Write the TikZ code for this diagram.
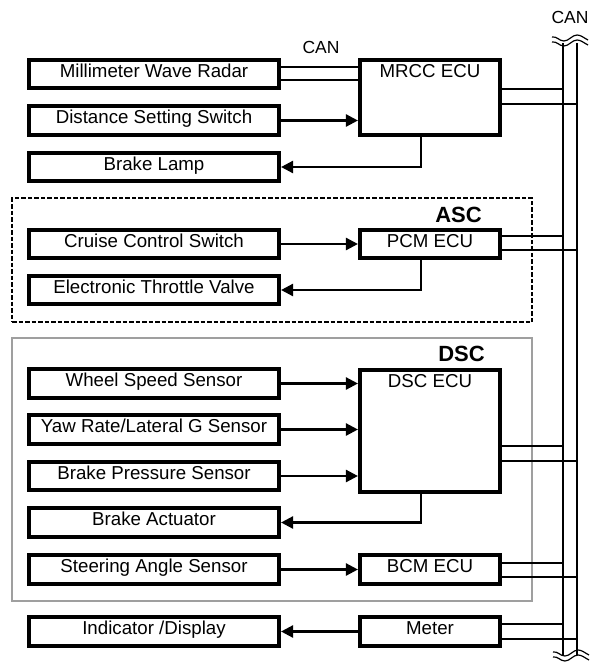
\documentclass[tikz,border=0pt]{standalone}
\usepackage{fontspec}
\setmainfont{Liberation Sans}
\usetikzlibrary{arrows.meta}
\begin{document}
\begin{tikzpicture}[x=1pt,y=-1pt,
  box/.style={draw, line width=3.6pt, minimum width=250.5pt, minimum height=28.5pt, inner sep=0pt},
  ecu/.style={box, minimum width=140.5pt},
  lab/.style={anchor=base, yshift=-19.5pt, inner sep=0pt, font=\fontsize{18.7}{20}\selectfont},
  txt/.style={anchor=base, inner sep=0pt, font=\fontsize{17.5}{20}\selectfont},
  grp/.style={anchor=base, inner sep=0pt, font=\bfseries\fontsize{22}{24}\selectfont},
  arr/.style={line width=2.4pt, -{Triangle[length=12pt,width=12pt]}},
  fb/.style={line width=2.4pt, -{Triangle[length=12pt,width=12pt]}},
  thin/.style={line width=1.2pt},
]
\useasboundingbox (0,0) rectangle (596,662);

% group frames
\node[draw, line width=1.8pt, dash pattern=on 4.5pt off 2pt, minimum width=520pt, minimum height=124pt, inner sep=0pt] (ascframe) at (272,260) {};
\node[draw, gray!75, line width=1.8pt, minimum width=520pt, minimum height=263pt, inner sep=0pt] (dscframe) at (272,469.5) {};
\node[grp] (asclab) at (458.5,222) {ASC};
\node[grp] (dsclab) at (461.5,361) {DSC};

% labels
\node[txt] (can1) at (321,53) {CAN};
\node[txt] (can2) at (570,23) {CAN};

% left boxes
\node[box, label={[lab]north:Millimeter Wave Radar}] (radar) at (154,74) {};
\node[box, label={[lab]north:Distance Setting Switch}] (dist) at (154,120.5) {};
\node[box, label={[lab]north:Brake Lamp}] (lamp) at (154,167) {};
\node[box, label={[lab]north:Cruise Control Switch}] (cruise) at (154,244) {};
\node[box, label={[lab]north:Electronic Throttle Valve}] (etv) at (154,290) {};
\node[box, label={[lab]north:Wheel Speed Sensor}] (wss) at (154,383.5) {};
\node[box, label={[lab]north:Yaw Rate/Lateral G Sensor}] (yaw) at (154,429.5) {};
\node[box, label={[lab]north:Brake Pressure Sensor}] (bps) at (154,476) {};
\node[box, label={[lab]north:Brake Actuator}] (bact) at (154,522.5) {};
\node[box, label={[lab]north:Steering Angle Sensor}] (sas) at (154,569.5) {};
\node[box, label={[lab]north:Indicator /Display}] (ind) at (154,631.5) {};

% ECUs
\node[ecu, minimum height=75.5pt, label={[lab]north:MRCC ECU}] (mrcc) at (430,97.5) {};
\node[ecu, label={[lab]north:PCM ECU}] (pcm) at (430,244) {};
\node[ecu, minimum height=122.5pt, label={[lab]north:DSC ECU}] (dsc) at (430,431) {};
\node[ecu, label={[lab]north:BCM ECU}] (bcm) at (430,569.5) {};
\node[ecu, label={[lab]north:Meter}] (meter) at (430,631.5) {};

% CAN bus
\coordinate (bLt) at (563,43);
\coordinate (bLb) at (563,655);
\coordinate (bRt) at (577,43);
\coordinate (bRb) at (577,655);
\draw[thin] (bLt) -- (bLb);
\draw[thin] (bRt) -- (bRb);
\foreach \yy in {37,42} {
  \draw[line width=1.2pt] (552,\yy) .. controls (557,\yy-1) and (559,\yy+4) .. (564,\yy+4)
     .. controls (569,\yy+4) and (572,\yy-2) .. (577,\yy-2)
     .. controls (581,\yy-2) and (584,\yy+1) .. (588,\yy+3);
}
\foreach \yy in {652,657} {
  \draw[line width=1.2pt] (553,\yy) .. controls (558,\yy-1) and (560,\yy+4) .. (565,\yy+4)
     .. controls (570,\yy+4) and (573,\yy-2) .. (578,\yy-2)
     .. controls (582,\yy-2) and (585,\yy+1) .. (589,\yy+3);
}

% radar to MRCC
\draw[thin] ([yshift=7pt]radar.east) -- ([yshift=7pt]radar.east -| mrcc.west);
\draw[thin] ([yshift=-6pt]radar.east) -- ([yshift=-6pt]radar.east -| mrcc.west);

% inputs
\draw[arr] (dist.east) -- (dist.east -| mrcc.west);
\draw[arr] (cruise.east) -- (cruise.east -| pcm.west);
\draw[arr] (wss.east) -- (wss.east -| dsc.west);
\draw[arr] (yaw.east) -- (yaw.east -| dsc.west);
\draw[arr] (bps.east) -- (bps.east -| dsc.west);
\draw[arr] (sas.east) -- (sas.east -| bcm.west);

% outputs
\draw[fb] ([xshift=-9pt]mrcc.south) |- (lamp.east);
\draw[fb] ([xshift=-9pt]pcm.south) |- (etv.east);
\draw[fb] ([xshift=-9pt]dsc.south) |- (bact.east);
\draw[fb] (meter.west) -- (meter.west -| ind.east);

% bus connections
\draw[thin] ([yshift=8.5pt]mrcc.east) -- ([yshift=8.5pt]mrcc.east -| bLt);
\draw[thin] ([yshift=-6.5pt]mrcc.east) -- ([yshift=-6.5pt]mrcc.east -| bRt);
\draw[thin] ([yshift=8pt]pcm.east) -- ([yshift=8pt]pcm.east -| bLt);
\draw[thin] ([yshift=-6pt]pcm.east) -- ([yshift=-6pt]pcm.east -| bRt);
\draw[thin] ([yshift=-15pt]dsc.east) -- ([yshift=-15pt]dsc.east -| bLt);
\draw[thin] ([yshift=-30pt]dsc.east) -- ([yshift=-30pt]dsc.east -| bRt);
\draw[thin] ([yshift=6.5pt]bcm.east) -- ([yshift=6.5pt]bcm.east -| bLt);
\draw[thin] ([yshift=-7.5pt]bcm.east) -- ([yshift=-7.5pt]bcm.east -| bRt);
\draw[thin] ([yshift=7.5pt]meter.east) -- ([yshift=7.5pt]meter.east -| bLt);
\draw[thin] ([yshift=-7.5pt]meter.east) -- ([yshift=-7.5pt]meter.east -| bRt);
\end{tikzpicture}
\end{document}
